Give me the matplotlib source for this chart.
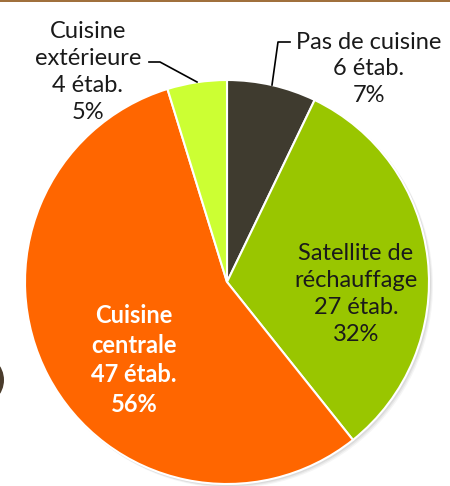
import numpy as np
import matplotlib
matplotlib.use('Agg')
import matplotlib.pyplot as plt
from matplotlib.patches import Circle, Rectangle

plt.rcParams['font.family'] = ['Lato', 'DejaVu Sans']

# data
categories = ['Pas de cuisine', 'Satellite de\nréchauffage', 'Cuisine\ncentrale', 'Cuisine\nextérieure']
counts = [6, 27, 47, 4]
colours = ['#3f3b2f', '#99c600', '#ff6600', '#ccff33']

total = float(sum(counts))
pcts = [int(round(100.0 * c / total)) for c in counts]

fig = plt.figure(figsize=(4.5, 4.86), dpi=100)
ax = fig.add_axes([0, 0, 1, 1])

cx, cy, R = 227, 486 - 282, 202

# soft shadow behind the pie
for k, a in enumerate([0.06, 0.05, 0.04]):
    ax.add_patch(Circle((cx + 1.5 + k, cy - 1.5 - k), R + 0.5, color='#000000', alpha=a, lw=0, zorder=1))

wedges, _ = ax.pie(counts, colors=colours, startangle=90, counterclock=False,
                   center=(cx, cy), radius=R, frame=True,
                   wedgeprops=dict(edgecolor='white', linewidth=1.5))
for w in wedges:
    w.set_zorder(2)
ax.set_xlim(0, 450)
ax.set_ylim(0, 486)
ax.set_aspect('equal')
ax.axis('off')

fs = 17
ls = 1.34

def label(i):
    return '%s\n%d étab.\n%d%%' % (categories[i], counts[i], pcts[i])

# Pas de cuisine (outside, with leader)
ax.text(369, 486 - 69, label(0), ha='center', va='center', fontsize=fs,
        color='#1a1a1a', linespacing=ls, zorder=5)
ax.plot([272, 278, 290], [486 - 85, 486 - 42, 486 - 42], color='black', lw=1.2, zorder=4)

# Satellite de rechauffage (inside)
ax.text(356, 486 - 294, label(1), ha='center', va='center', fontsize=fs,
        color='#1a1a1a', linespacing=ls, zorder=5)

# Cuisine centrale (inside, bold white)
ax.text(134, 486 - 360, label(2), ha='center', va='center', fontsize=fs,
        color='white', fontweight='bold', linespacing=ls, zorder=5)

# Cuisine exterieure (outside, with leader)
ax.text(88, 486 - 72, label(3), ha='center', va='center', fontsize=fs,
        color='#1a1a1a', linespacing=ls, zorder=5)
ax.plot([149, 160, 197], [486 - 62, 486 - 62, 486 - 82], color='black', lw=1.2, zorder=4)

# bits of the page around the chart
ax.add_patch(Rectangle((0, 484), 450, 2.5, color='#a0703c', lw=0, zorder=6))
ax.add_patch(Circle((-22, 486 - 380), 26, color='#4a3c2c', lw=0, zorder=6))

fig.savefig('out.png', dpi=100)
